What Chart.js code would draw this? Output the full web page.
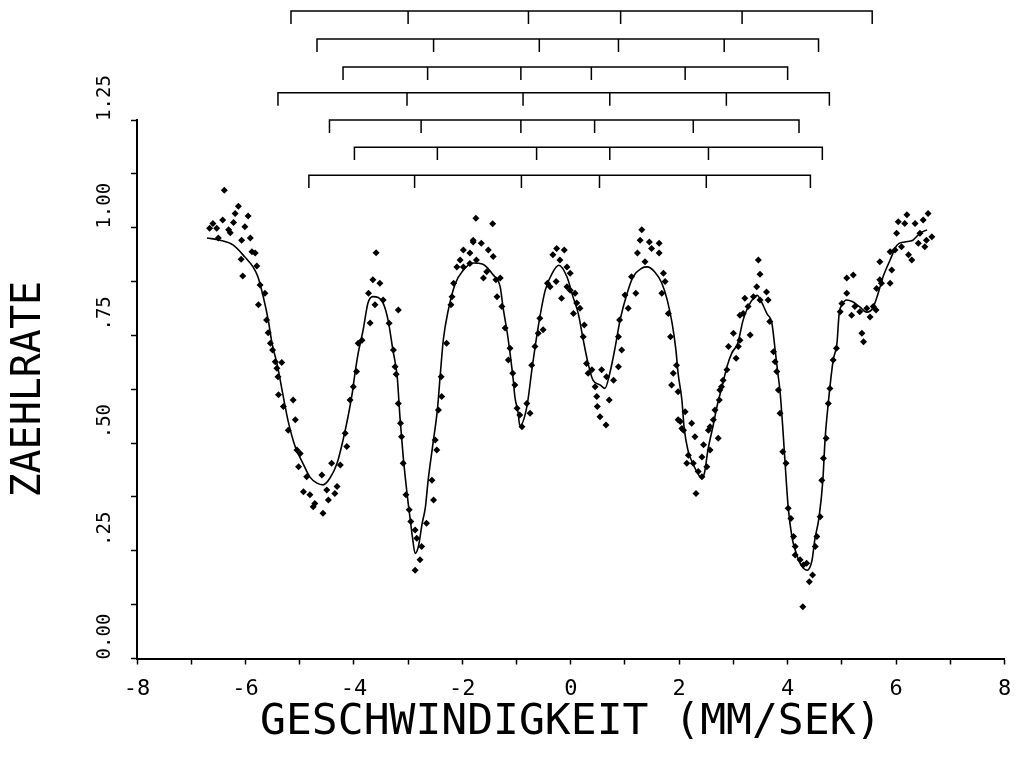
<!DOCTYPE html>
<html><head><meta charset="utf-8">
<script src="https://cdn.jsdelivr.net/npm/chart.js@4.4.1/dist/chart.umd.min.js"></script>
<style>html,body{margin:0;padding:0;background:#fff;} canvas{display:block;}</style>
</head><body>
<canvas id="c" width="1016" height="757"></canvas>
<script>
const xTitle = 'GESCHWINDIGKEIT (MM/SEK)';
const yTitle = 'ZAEHLRATE';
const xTickLabels = ['-8','-6','-4','-2','0','2','4','6','8'];
const yTickLabels = ['0.00','.25','.50','.75','1.00','1.25'];

// measured spectrum points (velocity mm/s, relative count rate)
const velocity = [-6.66,-6.60,-6.53,-6.50,-6.42,-6.39,-6.31,-6.28,-6.22,-6.19,-6.13,-6.08,-6.07,-6.05,-6.01,-5.95,-5.91,-5.88,-5.82,-5.79,-5.76,-5.73,-5.64,-5.61,-5.58,-5.54,-5.50,-5.45,-5.42,-5.40,-5.39,-5.33,-5.30,-5.21,-5.12,-5.08,-5.05,-5.02,-4.99,-4.93,-4.87,-4.81,-4.75,-4.72,-4.59,-4.57,-4.50,-4.47,-4.41,-4.35,-4.31,-4.25,-4.16,-4.13,-4.07,-4.01,-3.95,-3.92,-3.85,-3.73,-3.70,-3.65,-3.61,-3.59,-3.52,-3.46,-3.35,-3.27,-3.24,-3.22,-3.18,-3.18,-3.14,-3.12,-3.09,-3.04,-2.98,-2.95,-2.87,-2.87,-2.84,-2.78,-2.75,-2.66,-2.56,-2.53,-2.50,-2.47,-2.44,-2.39,-2.38,-2.29,-2.21,-2.19,-2.16,-2.10,-2.04,-1.98,-1.98,-1.86,-1.86,-1.80,-1.80,-1.75,-1.74,-1.65,-1.61,-1.55,-1.52,-1.44,-1.43,-1.38,-1.36,-1.30,-1.27,-1.21,-1.15,-1.12,-1.07,-1.03,-0.99,-0.94,-0.90,-0.81,-0.75,-0.72,-0.66,-0.60,-0.57,-0.51,-0.43,-0.38,-0.33,-0.27,-0.26,-0.20,-0.17,-0.12,-0.07,-0.07,-0.01,-0.01,0.05,0.08,0.11,0.17,0.23,0.25,0.29,0.32,0.39,0.45,0.48,0.49,0.54,0.57,0.65,0.66,0.71,0.79,0.88,0.88,0.90,0.94,1.00,1.06,1.12,1.20,1.23,1.28,1.31,1.37,1.45,1.49,1.63,1.63,1.68,1.71,1.74,1.80,1.84,1.86,1.89,1.95,1.98,1.98,2.02,2.05,2.08,2.11,2.14,2.17,2.23,2.26,2.29,2.31,2.35,2.42,2.42,2.45,2.51,2.54,2.57,2.57,2.63,2.66,2.72,2.74,2.75,2.78,2.81,2.88,2.91,3.00,3.05,3.09,3.12,3.12,3.18,3.21,3.27,3.31,3.37,3.43,3.46,3.49,3.49,3.61,3.64,3.67,3.74,3.77,3.80,3.83,3.86,3.91,3.97,4.01,4.06,4.11,4.14,4.14,4.23,4.28,4.29,4.35,4.40,4.46,4.51,4.54,4.60,4.63,4.66,4.71,4.75,4.78,4.84,4.90,4.97,5.00,5.09,5.09,5.18,5.21,5.24,5.33,5.37,5.40,5.46,5.52,5.58,5.63,5.64,5.70,5.70,5.73,5.89,5.89,5.92,5.98,6.01,6.04,6.10,6.16,6.20,6.23,6.29,6.35,6.41,6.44,6.50,6.53,6.56,6.59,6.66];
const countRate = [0.999,1.010,0.999,0.976,1.018,1.087,0.995,0.988,1.012,1.033,1.050,0.927,0.971,0.888,1.002,1.027,0.976,0.944,0.941,0.911,0.821,0.867,0.848,0.786,0.756,0.732,0.716,0.689,0.674,0.654,0.612,0.687,0.585,0.530,0.600,0.554,0.484,0.445,0.476,0.387,0.422,0.380,0.352,0.360,0.426,0.337,0.391,0.368,0.453,0.383,0.399,0.449,0.523,0.492,0.600,0.631,0.666,0.732,0.739,0.848,0.779,0.879,0.821,0.942,0.871,0.832,0.778,0.716,0.677,0.660,0.809,0.592,0.546,0.515,0.453,0.380,0.345,0.318,0.298,0.205,0.279,0.229,0.260,0.314,0.414,0.368,0.507,0.484,0.577,0.654,0.608,0.732,0.821,0.840,0.871,0.909,0.925,0.948,0.909,0.941,0.917,0.971,0.967,1.022,0.925,0.964,0.883,0.898,0.948,1.009,0.933,0.879,0.840,0.883,0.817,0.767,0.693,0.720,0.662,0.635,0.581,0.565,0.538,0.592,0.569,0.681,0.724,0.755,0.790,0.763,0.871,0.863,0.937,0.875,0.952,0.925,0.836,0.948,0.909,0.863,0.894,0.855,0.801,0.848,0.825,0.813,0.747,0.774,0.685,0.662,0.670,0.631,0.608,0.585,0.561,0.670,0.542,0.654,0.600,0.646,0.677,0.747,0.786,0.716,0.844,0.813,0.886,0.848,0.941,0.971,0.995,0.921,0.967,0.952,0.964,0.941,0.848,0.894,0.875,0.801,0.747,0.635,0.662,0.681,0.619,0.554,0.550,0.534,0.530,0.573,0.453,0.472,0.546,0.453,0.515,0.383,0.434,0.468,0.422,0.496,0.445,0.530,0.484,0.538,0.554,0.577,0.511,0.600,0.623,0.631,0.646,0.670,0.724,0.755,0.697,0.724,0.739,0.797,0.801,0.836,0.817,0.751,0.840,0.863,0.925,0.892,0.832,0.851,0.832,0.782,0.712,0.689,0.666,0.623,0.569,0.480,0.453,0.349,0.325,0.283,0.260,0.240,0.229,0.120,0.217,0.221,0.178,0.194,0.260,0.283,0.329,0.414,0.465,0.511,0.592,0.627,0.693,0.720,0.805,0.824,0.848,0.883,0.797,0.890,0.817,0.805,0.755,0.735,0.813,0.793,0.817,0.809,0.859,0.879,0.921,0.871,0.871,0.944,0.902,0.948,0.987,1.014,0.956,1.010,1.030,0.937,0.925,1.010,0.964,0.987,1.018,0.956,0.971,1.033,0.979];

// fitted curve
const fitVelocity = [-6.71,-6.47,-6.23,-6.01,-5.86,-5.77,-5.67,-5.58,-5.51,-5.41,-5.32,-5.21,-5.08,-4.94,-4.81,-4.68,-4.57,-4.44,-4.31,-4.20,-4.11,-4.03,-3.98,-3.92,-3.83,-3.74,-3.65,-3.55,-3.46,-3.37,-3.28,-3.20,-3.15,-3.09,-3.02,-2.96,-2.92,-2.87,-2.81,-2.74,-2.68,-2.63,-2.54,-2.46,-2.41,-2.35,-2.26,-2.13,-1.99,-1.80,-1.62,-1.43,-1.30,-1.25,-1.17,-1.12,-1.06,-1.03,-0.97,-0.94,-0.81,-0.71,-0.60,-0.47,-0.33,-0.22,-0.07,0.04,0.14,0.23,0.32,0.41,0.54,0.63,0.72,0.82,0.91,1.04,1.15,1.31,1.41,1.55,1.68,1.78,1.87,1.94,1.98,2.05,2.09,2.16,2.25,2.42,2.47,2.53,2.62,2.71,2.79,2.88,2.97,3.08,3.18,3.27,3.38,3.44,3.49,3.62,3.71,3.77,3.82,3.86,3.91,3.95,4.01,4.08,4.14,4.23,4.36,4.45,4.50,4.58,4.65,4.69,4.75,4.84,4.91,4.95,5.00,5.09,5.20,5.33,5.46,5.57,5.67,5.76,5.89,6.02,6.16,6.31,6.44,6.57];
const fitRate = [0.976,0.971,0.960,0.932,0.909,0.886,0.839,0.786,0.732,0.680,0.620,0.550,0.491,0.453,0.421,0.407,0.403,0.419,0.453,0.507,0.560,0.616,0.662,0.709,0.762,0.825,0.840,0.838,0.825,0.786,0.716,0.653,0.560,0.468,0.384,0.322,0.282,0.244,0.260,0.314,0.352,0.414,0.500,0.577,0.653,0.740,0.808,0.870,0.900,0.918,0.915,0.890,0.862,0.816,0.755,0.709,0.646,0.607,0.570,0.540,0.584,0.677,0.770,0.855,0.897,0.913,0.886,0.840,0.800,0.740,0.685,0.646,0.635,0.627,0.662,0.723,0.786,0.848,0.886,0.906,0.909,0.897,0.871,0.832,0.778,0.716,0.662,0.600,0.537,0.484,0.453,0.419,0.433,0.484,0.537,0.592,0.630,0.677,0.709,0.732,0.786,0.816,0.838,0.843,0.835,0.800,0.778,0.716,0.662,0.620,0.537,0.460,0.352,0.282,0.252,0.221,0.205,0.228,0.275,0.328,0.414,0.507,0.593,0.692,0.732,0.800,0.820,0.832,0.828,0.816,0.804,0.813,0.848,0.886,0.925,0.960,0.967,0.971,0.987,0.995];

// stick diagrams (line positions, mm/s) and their levels
const sextetLevels = [1.503, 1.438, 1.373, 1.313, 1.250, 1.187, 1.122];
const sextet1 = [-5.16, -3.00, -0.78, 0.92, 3.16, 5.56];
const sextet2 = [-4.68, -2.53, -0.58, 0.88, 2.83, 4.57];
const sextet3 = [-4.20, -2.64, -0.92, 0.38, 2.11, 4.00];
const sextet4 = [-5.40, -3.02, -0.88, 0.72, 2.87, 4.77];
const sextet5 = [-4.45, -2.76, -0.92, 0.44, 2.26, 4.21];
const sextet6 = [-3.99, -2.46, -0.63, 0.72, 2.54, 4.64];
const sextet7 = [-4.83, -2.88, -0.91, 0.53, 2.50, 4.42];
const sextets = [sextet1, sextet2, sextet3, sextet4, sextet5, sextet6, sextet7];

const STICK = 0.03;
function comb(pos, h) {
  const pts = [{x: pos[0], y: h - STICK}, {x: pos[0], y: h}];
  for (let k = 1; k < pos.length; k++) {
    pts.push({x: pos[k], y: h}, {x: pos[k], y: h - STICK}, {x: pos[k], y: h});
  }
  return pts;
}

const datasets = [
  {
    label: 'fit', data: fitVelocity.map((v, i) => ({x: v, y: fitRate[i]})),
    showLine: true, borderColor: '#000', borderWidth: 1.6, pointRadius: 0,
    cubicInterpolationMode: 'monotone', fill: false
  },
  {
    label: 'data', data: velocity.map((v, i) => ({x: v, y: countRate[i]})),
    showLine: false, pointStyle: 'rectRot', pointRadius: 3.5, pointBorderWidth: 0,
    backgroundColor: '#000', borderColor: '#000'
  }
];
sextets.forEach((s, i) => {
  datasets.push({
    label: 'sextet' + (i + 1), data: comb(s, sextetLevels[i]), showLine: true,
    borderColor: '#000', borderWidth: 1.5, pointRadius: 0, tension: 0, clip: false
  });
});

const bg = { id: 'bg', beforeDraw(c) { const ctx = c.ctx; ctx.save(); ctx.fillStyle = '#fff'; ctx.fillRect(0, 0, c.width, c.height); ctx.restore(); } };

new Chart(document.getElementById('c'), {
  type: 'scatter',
  data: { datasets },
  plugins: [bg],
  options: {
    responsive: false, animation: false, devicePixelRatio: 1,
    layout: { padding: { top: 120, right: 11.5, left: 0, bottom: 0 } },
    plugins: { legend: { display: false }, tooltip: { enabled: false } },
    scales: {
      x: {
        type: 'linear', min: -8, max: 8,
        afterFit: s => { s.height = 98.5; s.paddingRight = 0; s.paddingLeft = 0; },
        ticks: {
          stepSize: 1, autoSkip: false, maxRotation: 0, color: '#000', padding: 12,
          font: { family: 'DejaVu Sans Mono', size: 22 },
          callback: (v, i) => (i % 2 === 0 ? xTickLabels[i / 2] : '')
        },
        grid: { drawOnChartArea: false, tickLength: 6, tickWidth: 1.5, tickColor: '#000' },
        border: { display: true, color: '#000', width: 2 },
        title: { display: true, text: xTitle, color: '#000', padding: { top: 0, bottom: 13 },
                 font: { family: 'DejaVu Sans Mono', size: 43, lineHeight: 1 } }
      },
      y: {
        type: 'linear', min: 0, max: 1.25,
        afterFit: s => { s.width = 137; },
        ticks: {
          stepSize: 0.125, autoSkip: false, minRotation: 90, maxRotation: 90, color: '#000',
          crossAlign: 'center', padding: 3, labelOffset: -22,
          font: { family: 'DejaVu Sans Mono', size: 19 },
          callback: (v, i) => (i % 2 === 0 ? yTickLabels[i / 2] : '')
        },
        grid: { drawOnChartArea: false, tickLength: 6, tickWidth: 1.5, tickColor: '#000' },
        border: { display: true, color: '#000', width: 2 },
        title: { display: true, text: yTitle, color: '#000', padding: { top: 10, bottom: 0 },
                 font: { family: 'DejaVu Sans Mono', size: 40, lineHeight: 1 } }
      }
    }
  }
});
</script>
</body></html>
